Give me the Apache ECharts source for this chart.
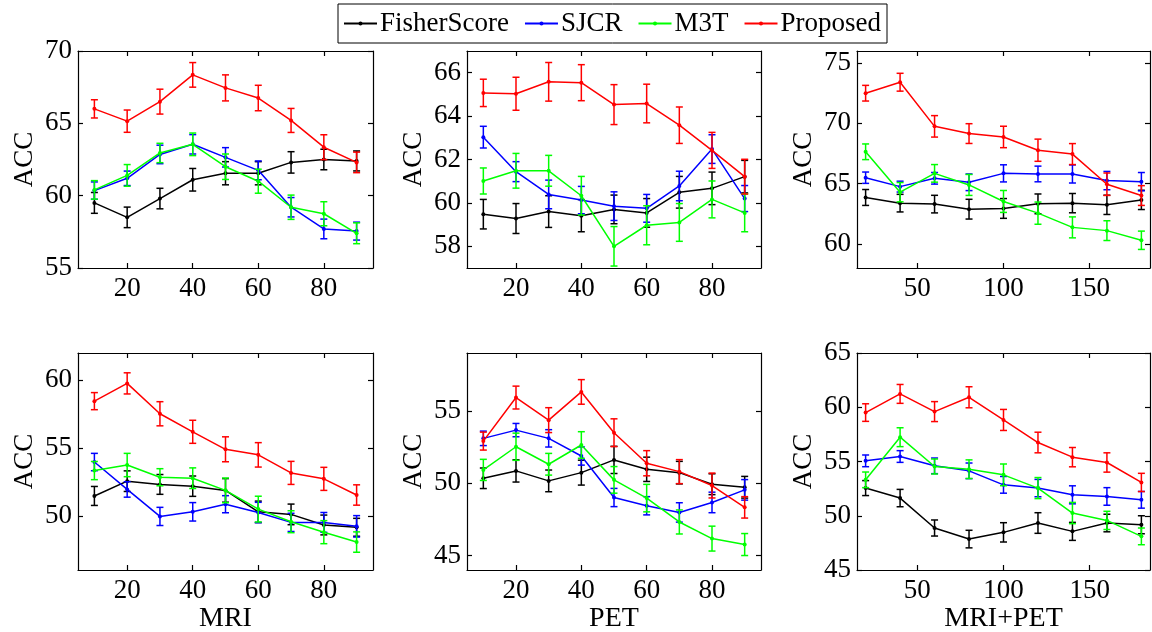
<!DOCTYPE html>
<html>
<head>
<meta charset="utf-8">
<script src="https://cdn.jsdelivr.net/npm/echarts@6/dist/echarts.min.js"></script>
<style>
  html, body { margin: 0; padding: 0; background: #fff; }
  #main { width: 1152px; height: 632px; }
</style>
</head>
<body>
<div id="main"></div>
<script>
// feature counts on the x axis
var xSingle = [10, 20, 30, 40, 50, 60, 70, 80, 90];
var xBoth = [20, 40, 60, 80, 100, 120, 140, 160, 180];
var xTicksSingle = [20, 40, 60, 80];
var xTicksBoth = [50, 100, 150];

var methods = ["FisherScore", "SJCR", "M3T", "Proposed"];
var colors = ["#000000", "#0000ff", "#00ff00", "#ff0000"];

// row 1, MRI
var fisherMri1 = [59.5, 58.5, 59.8, 61.1, 61.55, 61.55, 62.3, 62.5, 62.4];
var fisherMri1Err = [0.72, 0.71, 0.71, 0.78, 0.8, 0.8, 0.74, 0.71, 0.69];
var sjcrMri1 = [60.35, 61.2, 62.85, 63.55, 62.65, 61.75, 59.2, 57.7, 57.55];
var sjcrMri1Err = [0.6, 0.5, 0.64, 0.67, 0.67, 0.65, 0.67, 0.68, 0.62];
var m3tMri1 = [60.4, 61.4, 62.95, 63.55, 62.0, 61.0, 59.2, 58.75, 57.4];
var m3tMri1Err = [0.64, 0.75, 0.67, 0.78, 0.88, 0.83, 0.84, 0.83, 0.72];
var propMri1 = [66.0, 65.15, 66.5, 68.35, 67.45, 66.75, 65.2, 63.35, 62.3];
var propMri1Err = [0.63, 0.77, 0.86, 0.85, 0.9, 0.88, 0.83, 0.86, 0.71];

// row 1, PET
var fisherPet1 = [59.48, 59.28, 59.6, 59.41, 59.7, 59.54, 60.49, 60.67, 61.21];
var fisherPet1Err = [0.68, 0.69, 0.73, 0.74, 0.66, 0.66, 0.73, 0.75, 0.75];
var sjcrPet1 = [63.03, 61.44, 60.39, 60.13, 59.85, 59.75, 60.78, 62.48, 60.2];
var sjcrPet1Err = [0.5, 0.46, 0.66, 0.63, 0.66, 0.64, 0.68, 0.66, 0.6];
var m3tPet1 = [61.01, 61.48, 61.48, 60.33, 58.0, 58.97, 59.1, 60.16, 59.54];
var m3tPet1Err = [0.6, 0.8, 0.71, 0.89, 0.91, 0.9, 0.87, 0.85, 0.87];
var propPet1 = [65.07, 65.03, 65.58, 65.54, 64.53, 64.58, 63.58, 62.42, 61.21];
var propPet1Err = [0.63, 0.76, 0.89, 0.83, 0.92, 0.89, 0.84, 0.83, 0.8];

// row 1, MRI+PET
var fisherBoth1 = [63.85, 63.38, 63.3, 62.88, 62.94, 63.32, 63.38, 63.24, 63.65];
var fisherBoth1Err = [0.66, 0.73, 0.73, 0.82, 0.82, 0.82, 0.8, 0.8, 0.8];
var sjcrBoth1 = [65.49, 64.75, 65.44, 65.11, 65.85, 65.8, 65.8, 65.25, 65.16];
var sjcrBoth1Err = [0.47, 0.45, 0.48, 0.69, 0.71, 0.65, 0.75, 0.76, 0.76];
var m3tBoth1 = [67.64, 64.29, 65.85, 64.89, 63.52, 62.55, 61.37, 61.1, 60.3];
var m3tBoth1Err = [0.65, 0.8, 0.73, 0.87, 0.91, 0.92, 0.87, 0.82, 0.76];
var propBoth1 = [72.5, 73.41, 69.75, 69.15, 68.87, 67.77, 67.45, 64.95, 64.01];
var propBoth1Err = [0.65, 0.74, 0.89, 0.82, 0.89, 0.92, 0.87, 0.93, 0.82];

// row 2, MRI
var fisherMri2 = [51.46, 52.55, 52.31, 52.18, 51.87, 50.29, 50.1, 49.32, 49.15];
var fisherMri2Err = [0.7, 0.76, 0.73, 0.75, 0.87, 0.79, 0.76, 0.73, 0.66];
var sjcrMri2 = [53.96, 51.94, 49.95, 50.29, 50.85, 50.24, 49.51, 49.51, 49.22];
var sjcrMri2Err = [0.64, 0.57, 0.67, 0.68, 0.63, 0.75, 0.67, 0.73, 0.79];
var m3tMri2 = [53.33, 53.74, 52.84, 52.77, 51.87, 50.49, 49.56, 48.79, 48.06];
var m3tMri2Err = [0.67, 0.86, 0.63, 0.76, 0.91, 0.95, 0.81, 0.85, 0.75];
var propMri2 = [58.45, 59.76, 57.52, 56.19, 54.9, 54.49, 53.16, 52.72, 51.53];
var propMri2Err = [0.63, 0.78, 0.89, 0.85, 0.92, 0.9, 0.85, 0.85, 0.75];

// row 2, PET
var fisherPet2 = [50.34, 50.85, 50.16, 50.73, 51.61, 50.96, 50.73, 49.93, 49.72];
var fisherPet2Err = [0.71, 0.77, 0.75, 0.86, 0.94, 0.84, 0.78, 0.72, 0.75];
var sjcrPet2 = [53.1, 53.67, 53.1, 51.88, 49.01, 48.44, 47.98, 48.67, 49.54];
var sjcrPet2Err = [0.5, 0.46, 0.6, 0.63, 0.63, 0.63, 0.67, 0.71, 0.71];
var m3tPet2 = [50.92, 52.52, 51.31, 52.64, 50.23, 48.97, 47.32, 46.17, 45.76];
var m3tPet2Err = [0.73, 0.94, 0.75, 0.92, 0.92, 0.95, 0.83, 0.86, 0.76];
var propPet2 = [52.91, 55.92, 54.36, 56.31, 53.49, 51.38, 50.8, 49.84, 48.33];
var propPet2Err = [0.62, 0.79, 0.86, 0.85, 0.96, 0.87, 0.83, 0.86, 0.74];

// row 2, MRI+PET
var fisherBoth2 = [52.55, 51.63, 48.87, 47.85, 48.47, 49.33, 48.56, 49.33, 49.17];
var fisherBoth2Err = [0.69, 0.8, 0.74, 0.81, 0.89, 0.95, 0.83, 0.81, 0.83];
var sjcrBoth2 = [55.06, 55.46, 54.6, 54.14, 52.85, 52.55, 51.93, 51.78, 51.47];
var sjcrBoth2Err = [0.54, 0.54, 0.72, 0.72, 0.77, 0.8, 0.83, 0.81, 0.77];
var m3tBoth2 = [53.31, 57.24, 54.54, 54.29, 53.77, 52.55, 50.25, 49.57, 48.1];
var m3tBoth2Err = [0.72, 0.87, 0.69, 0.86, 1.0, 0.97, 0.98, 0.84, 0.77];
var propBoth2 = [59.51, 61.23, 59.6, 60.92, 58.83, 56.75, 55.4, 54.91, 53.07];
var propBoth2Err = [0.81, 0.87, 0.92, 0.97, 0.97, 0.95, 0.89, 0.89, 0.84];

// y tick labels per panel
var yTicksMri1 = [55, 60, 65, 70];
var yTicksPet1 = [58, 60, 62, 64, 66];
var yTicksBoth1 = [60, 65, 70, 75];
var yTicksMri2 = [50, 55, 60];
var yTicksPet2 = [45, 50, 55];
var yTicksBoth2 = [45, 50, 55, 60, 65];

var panels = [
  { x: xSingle, xt: xTicksSingle, xr: [5, 95], yr: [55, 70], yt: yTicksMri1, name: "",
    mean: [fisherMri1, sjcrMri1, m3tMri1, propMri1], err: [fisherMri1Err, sjcrMri1Err, m3tMri1Err, propMri1Err] },
  { x: xSingle, xt: xTicksSingle, xr: [5, 95], yr: [57, 67], yt: yTicksPet1, name: "",
    mean: [fisherPet1, sjcrPet1, m3tPet1, propPet1], err: [fisherPet1Err, sjcrPet1Err, m3tPet1Err, propPet1Err] },
  { x: xBoth, xt: xTicksBoth, xr: [15, 185], yr: [58, 76], yt: yTicksBoth1, name: "",
    mean: [fisherBoth1, sjcrBoth1, m3tBoth1, propBoth1], err: [fisherBoth1Err, sjcrBoth1Err, m3tBoth1Err, propBoth1Err] },
  { x: xSingle, xt: xTicksSingle, xr: [5, 95], yr: [46, 62], yt: yTicksMri2, name: "MRI",
    mean: [fisherMri2, sjcrMri2, m3tMri2, propMri2], err: [fisherMri2Err, sjcrMri2Err, m3tMri2Err, propMri2Err] },
  { x: xSingle, xt: xTicksSingle, xr: [5, 95], yr: [44, 59], yt: yTicksPet2, name: "PET",
    mean: [fisherPet2, sjcrPet2, m3tPet2, propPet2], err: [fisherPet2Err, sjcrPet2Err, m3tPet2Err, propPet2Err] },
  { x: xBoth, xt: xTicksBoth, xr: [15, 185], yr: [45, 65], yt: yTicksBoth2, name: "MRI+PET",
    mean: [fisherBoth2, sjcrBoth2, m3tBoth2, propBoth2], err: [fisherBoth2Err, sjcrBoth2Err, m3tBoth2Err, propBoth2Err] }
];

var FONT = "Liberation Serif";
var colLeft = [78, 467, 857];
var colWidth = [295, 294, 293];
var rowTop = [51, 353];
var rowHeight = 217;

var grids = [], xAxes = [], yAxes = [], series = [];

function errRender(params, api) {
  var x = api.value(0);
  var lo = api.coord([x, api.value(1)]);
  var hi = api.coord([x, api.value(2)]);
  var c = api.visual("color");
  var cap = 3.5;
  var st = { stroke: c, lineWidth: 1.5 };
  return {
    type: "group",
    children: [
      { type: "line", shape: { x1: lo[0], y1: lo[1], x2: hi[0], y2: hi[1] }, style: st },
      { type: "line", shape: { x1: lo[0] - cap, y1: lo[1], x2: lo[0] + cap, y2: lo[1] }, style: st },
      { type: "line", shape: { x1: hi[0] - cap, y1: hi[1], x2: hi[0] + cap, y2: hi[1] }, style: st }
    ]
  };
}

panels.forEach(function (p, i) {
  var col = i % 3, row = Math.floor(i / 3);
  grids.push({
    left: colLeft[col], top: rowTop[row], width: colWidth[col], height: rowHeight,
    containLabel: false, outerBoundsMode: "none"
  });
  var lineStyle = { color: "#000", width: 1.2 };
  // bottom x axis
  xAxes.push({
    type: "value", gridIndex: i, min: p.xr[0], max: p.xr[1], position: "bottom",
    name: p.name, nameLocation: "middle", nameGap: 32,
    nameTextStyle: { fontFamily: FONT, fontSize: 28, color: "#000" },
    axisLine: { show: true, onZero: false, lineStyle: lineStyle },
    axisTick: { show: true, inside: true, length: 5, customValues: p.xt, lineStyle: lineStyle },
    axisLabel: { show: true, customValues: p.xt, margin: 7, fontFamily: FONT, fontSize: 27, color: "#000" },
    splitLine: { show: false }
  });
  // top x axis (box)
  xAxes.push({
    type: "value", gridIndex: i, min: p.xr[0], max: p.xr[1], position: "top",
    axisLine: { show: true, onZero: false, lineStyle: lineStyle },
    axisTick: { show: true, inside: true, length: 5, customValues: p.xt, lineStyle: lineStyle },
    axisLabel: { show: false },
    splitLine: { show: false }
  });
  // left y axis
  yAxes.push({
    type: "value", gridIndex: i, min: p.yr[0], max: p.yr[1], position: "left",
    name: "ACC", nameLocation: "middle", nameGap: 40,
    nameTextStyle: { fontFamily: FONT, fontSize: 27, color: "#000" },
    axisLine: { show: true, onZero: false, lineStyle: lineStyle },
    axisTick: { show: true, inside: true, length: 5, customValues: p.yt, lineStyle: lineStyle },
    axisLabel: { show: true, customValues: p.yt, margin: 6, fontFamily: FONT, fontSize: 27, color: "#000" },
    splitLine: { show: false }
  });
  // right y axis (box)
  yAxes.push({
    type: "value", gridIndex: i, min: p.yr[0], max: p.yr[1], position: "right",
    axisLine: { show: true, onZero: false, lineStyle: lineStyle },
    axisTick: { show: true, inside: true, length: 5, customValues: p.yt, lineStyle: lineStyle },
    axisLabel: { show: false },
    splitLine: { show: false }
  });

  for (var m = 0; m < 4; m++) {
    var mean = p.mean[m], err = p.err[m];
    series.push({
      type: "custom",
      name: methods[m] + " err",
      xAxisIndex: 2 * i, yAxisIndex: 2 * i,
      renderItem: errRender,
      itemStyle: { color: colors[m] },
      encode: { x: 0, y: [1, 2] },
      data: p.x.map(function (xv, k) { return [xv, mean[k] - err[k], mean[k] + err[k]]; }),
      z: 2 + m
    });
    series.push({
      type: "line",
      name: methods[m],
      xAxisIndex: 2 * i, yAxisIndex: 2 * i,
      data: p.x.map(function (xv, k) { return [xv, mean[k]]; }),
      symbol: "circle", symbolSize: 4,
      itemStyle: { color: colors[m] },
      lineStyle: { color: colors[m], width: 1.5 },
      z: 2 + m
    });
  }
});

// put line series first so the legend takes its icons from them
series.sort(function (a, b) { return (a.type === "line" ? 0 : 1) - (b.type === "line" ? 0 : 1); });

var chart = echarts.init(document.getElementById("main"), null, { renderer: "canvas" });
chart.setOption({
  animation: false,
  backgroundColor: "#fff",
  legend: {
    data: methods,
    left: 338, top: 4,
    orient: "horizontal",
    itemWidth: 33, itemHeight: 5, itemGap: 15,
    padding: [6, 6, 6, 5],
    borderColor: "#000", borderWidth: 1, backgroundColor: "#fff",
    textStyle: { fontFamily: FONT, fontSize: 27, color: "#000", padding: [0, 0, 0, -2] }
  },
  grid: grids,
  xAxis: xAxes,
  yAxis: yAxes,
  series: series
});
</script>
</body>
</html>
